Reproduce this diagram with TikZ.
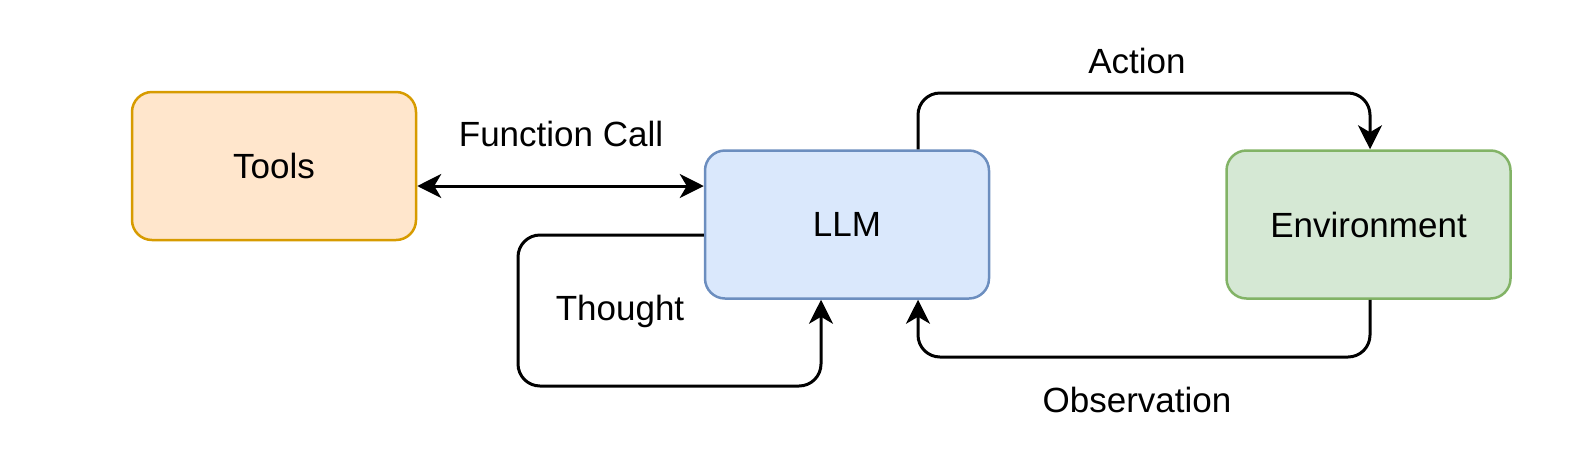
\documentclass[tikz,border=0pt]{standalone}
\usepackage{fontspec}
\setmainfont{Liberation Sans}
\usetikzlibrary{arrows.meta}
\definecolor{toolfill}{HTML}{FFE6CC}\definecolor{tooldraw}{HTML}{D79B00}
\definecolor{llmfill}{HTML}{DAE8FC}\definecolor{llmdraw}{HTML}{6C8EBF}
\definecolor{envfill}{HTML}{D5E8D4}\definecolor{envdraw}{HTML}{82B366}
\begin{document}
\begin{tikzpicture}[x=1pt,y=-1pt,
  tip/.tip={Stealth[length=24pt,width=24pt,inset=7pt]},
  box/.style={rectangle,rounded corners=20pt,line width=2.5pt,minimum width=284pt,minimum height=148pt,inner sep=0pt,font=\fontsize{35}{42}\selectfont},
  conn/.style={line width=3pt,rounded corners=22pt,-tip},
  lbl/.style={font=\fontsize{35}{42}\selectfont,inner sep=0pt}]
\useasboundingbox (0,0) rectangle (1586,448);
\node[box,fill=toolfill,draw=tooldraw] (tools) at (274,166) {Tools};
\node[box,fill=llmfill,draw=llmdraw] (llm) at (847,224.5) {LLM};
\node[box,fill=envfill,draw=envdraw] (env) at (1368.5,224.5) {Environment};
\coordinate (fc) at (0,186);
\draw[line width=3pt,tip-tip] (tools.east |- fc) -- (llm.west |- fc);
\coordinate (tc) at (821,0);
\draw[conn] (llm.west |- 0,235) -- (518,235) -- (518,386) -- (821,386) -- (llm.south -| tc);
\coordinate (ac) at (918,0);
\coordinate (ec) at (1370,0);
\draw[conn] (llm.north -| ac) -- (918,93) -- (1370,93) -- (env.north -| ec);
\draw[conn] (env.south -| ec) -- (1370,357) -- (918,357) -- (llm.south -| ac);
\node[lbl] (lfc) at (561,134) {Function Call};
\node[lbl] (lth) at (620,311) {Thought};
\node[lbl] (lac) at (1137,61) {Action};
\node[lbl] (lob) at (1137,400) {Observation};
\end{tikzpicture}
\end{document}
